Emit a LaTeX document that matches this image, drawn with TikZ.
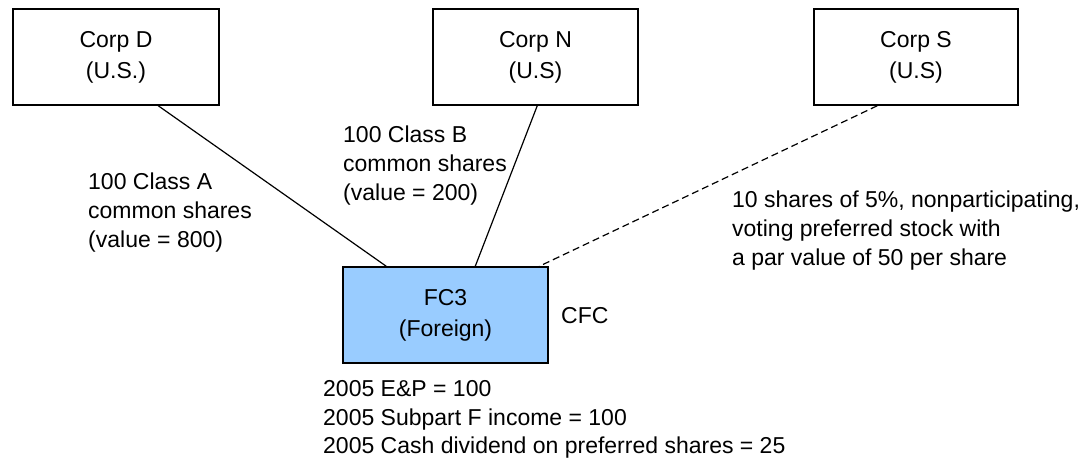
\documentclass[tikz,border=0pt]{standalone}
\usepackage{fontspec}
\setmainfont{Liberation Sans}
\usetikzlibrary{calc}
\definecolor{fcblue}{HTML}{99CCFF}
\begin{document}
\begin{tikzpicture}[x=1pt,y=-1pt,
  every node/.style={font=\fontsize{23}{28.8}\selectfont},
  corp/.style={draw, line width=1.5pt, minimum width=206pt, minimum height=96pt, inner sep=0pt, align=center, font=\fontsize{23}{31}\selectfont},
  lbl/.style={anchor=north west, inner sep=0pt, align=left},
  link/.style={line width=1.2pt},
  pref/.style={line width=1.2pt, dash pattern=on 7pt off 4pt}]
\useasboundingbox (0,0) rectangle (1088,459);
\node[corp] (D) at (116,57) {Corp D\\(U.S.)};
\node[corp, minimum width=205pt] (N) at (535.5,57) {Corp N\\(U.S)};
\node[corp, minimum width=204pt] (S) at (916,57) {Corp S\\(U.S)};
\node[corp, fill=fcblue, minimum width=205pt] (F) at (445.5,315) {FC3\\(Foreign)};
\draw[link] ($(D.south west)+(146,0)$) -- ($(F.north west)+(44,0)$);
\draw[link] ($(N.south west)+(105,0)$) -- ($(F.north west)+(133,0)$);
\draw[pref] ($(S.south west)+(64,0)$) -- ($(F.north west)+(197,0)$);
\node[anchor=base west, inner sep=0pt] (cfc) at (561,323) {CFC};
\node[lbl] (la) at (88,173) {100 Class A\\common shares\\(value = 800)};
\node[lbl] (lb) at (343,126) {100 Class B\\common shares\\(value = 200)};
\node[lbl] (ls) at (732,191) {10 shares of 5\%, nonparticipating,\\voting preferred stock with\\a par value of 50 per share};
\node[lbl] (lf) at (323,380) {2005 E\&P = 100\\2005 Subpart F income = 100\\2005 Cash dividend on preferred shares = 25};
\end{tikzpicture}
\end{document}
